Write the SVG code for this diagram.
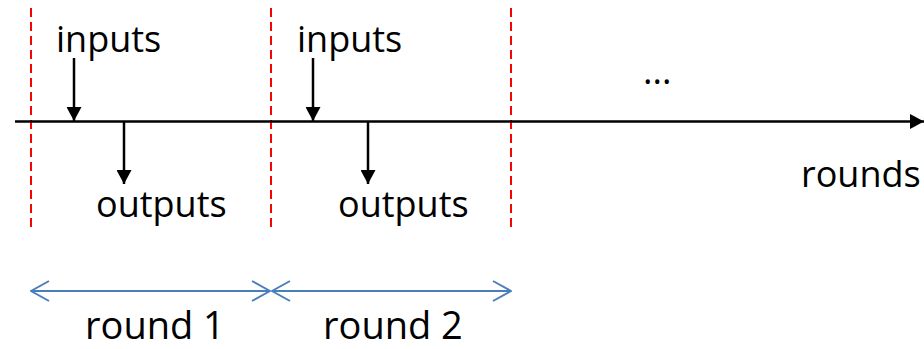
<svg xmlns="http://www.w3.org/2000/svg" width="924" height="349" viewBox="0 0 924 349">
<style>
.t{font-family:"Open Sans","Liberation Sans",sans-serif;font-size:36px;fill:#000}
.r{font-size:38px}
.red{stroke:#FF0000;stroke-width:2;stroke-dasharray:9 5;fill:none}
.blk{stroke:#000;stroke-width:2.5;fill:none}
.blu{stroke:#4A7EBB;stroke-width:2;fill:none}
</style>
<defs>
<marker id="ah" markerUnits="userSpaceOnUse" viewBox="0 0 14 15" refX="14" refY="7.5" markerWidth="14" markerHeight="15" orient="auto">
<path d="M0,0 L14,7.5 L0,15 Z" fill="#000"/>
</marker>
<marker id="oh" markerUnits="userSpaceOnUse" viewBox="0 0 20 24" refX="19" refY="12" markerWidth="20" markerHeight="24" orient="auto-start-reverse">
<path d="M1,2 L19,12 L1,22" fill="none" stroke="#4A7EBB" stroke-width="2"/>
</marker>
</defs>
<g id="boundaries">
<line class="red" x1="31" y1="8" x2="31" y2="230"/>
<line class="red" x1="271" y1="8" x2="271" y2="230"/>
<line class="red" x1="511" y1="8" x2="511" y2="230"/>
</g>
<g id="connectors">
<line class="blk" x1="15" y1="121.5" x2="924" y2="121.5" marker-end="url(#ah)"/>
<line class="blk" x1="74" y1="58" x2="74" y2="121" marker-end="url(#ah)"/>
<line class="blk" x1="124" y1="121" x2="124" y2="184" marker-end="url(#ah)"/>
<line class="blk" x1="313" y1="58" x2="313" y2="121" marker-end="url(#ah)"/>
<line class="blk" x1="368" y1="121" x2="368" y2="184" marker-end="url(#ah)"/>
<line class="blu" x1="31" y1="291" x2="270" y2="291" marker-start="url(#oh)" marker-end="url(#oh)"/>
<line class="blu" x1="272" y1="291" x2="511" y2="291" marker-start="url(#oh)" marker-end="url(#oh)"/>
</g>
<g id="inputs1"><text class="t" x="56" y="52">inputs</text></g>
<g id="outputs1"><text class="t" x="96" y="217">outputs</text></g>
<g id="inputs2"><text class="t" x="297" y="52">inputs</text></g>
<g id="outputs2"><text class="t" x="338" y="217">outputs</text></g>
<g id="ellipsis"><text class="t" x="643" y="84">...</text></g>
<g id="rounds"><text class="t" x="801" y="187">rounds</text></g>
<g id="round1"><text class="t r" x="85" y="339">round 1</text></g>
<g id="round2"><text class="t r" x="323" y="339">round 2</text></g>
</svg>
